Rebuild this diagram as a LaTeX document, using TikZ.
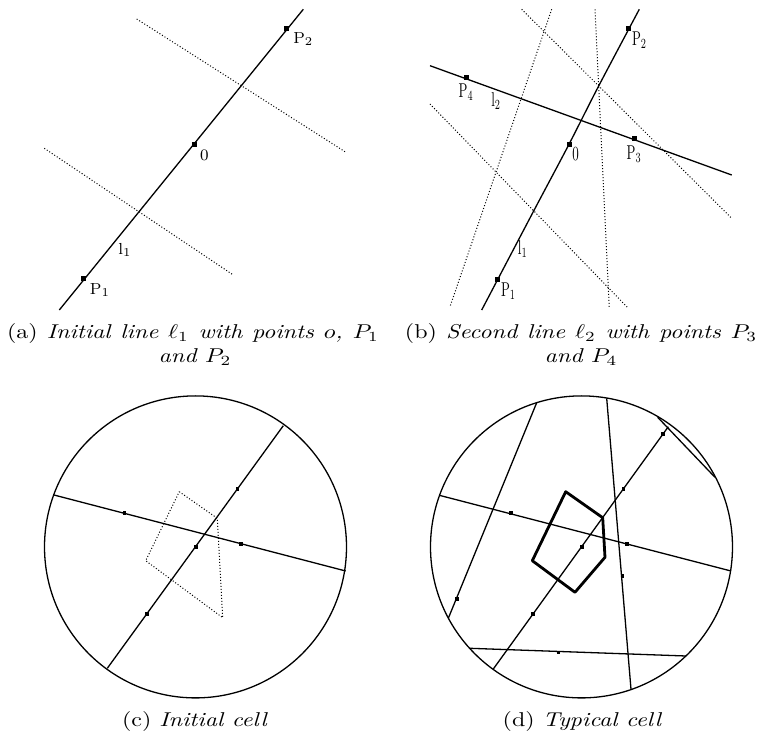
\documentclass[tikz,border=0pt]{standalone}
\usepackage{amsmath,amssymb}
\usepackage{tikz}
\usetikzlibrary{positioning}
% narrow labels of panel (b), wide caption face
\newcommand{\thinlab}[1]{\scalebox{0.65}[1]{#1}}
\newcommand{\widecap}[1]{\scalebox{1.2}[1]{#1}}
\tikzset{
    % marked points on the lines
    ptmark/.style={fill=black, inner sep=0pt, minimum size=2.5pt},
    smallmark/.style={fill=black, inner sep=0pt, minimum size=1.8pt},
    % point labels
    ptlab/.style={inner sep=0pt, font=\footnotesize},
    thinptlab/.style={inner sep=0pt, font=\normalsize},
    % captions under the panels
    caplab/.style={inner sep=0pt, anchor=base, font=\normalsize},
}
\tikzset{
    % line styles
    cutline/.style={line width=0.65pt},
    bisector/.style={line width=0.5pt, densely dotted},
    window/.style={line width=0.65pt},
    cellboundary/.style={line width=1.4pt, line join=round},
}

\begin{document}
\begin{tikzpicture}[x=0.5pt,y=-0.5pt]
  \useasboundingbox (0,0) rectangle (757,738);

  % (a) the first line and its bisectors
  \coordinate (a1s) at (59.3,310);   \coordinate (a1e) at (303.3,9.3);
  \coordinate (ab1s) at (136.7,19);  \coordinate (ab1e) at (345,151.7);
  \coordinate (ab2s) at (44.3,148.3); \coordinate (ab2e) at (233.3,275);
  \draw[cutline] (a1s) -- (a1e);
  \draw[bisector] (ab1s) -- (ab1e);
  \draw[bisector] (ab2s) -- (ab2e);
  \node[ptmark] (ap2) at (286.7,28.3) {};
  \node[ptmark] (ao)  at (194,144.3)  {};
  \node[ptmark] (ap1) at (83.7,279)   {};
  \node[ptlab,below right=0.5pt and 1.7pt of ap2] {P$_2$};
  \node[ptlab,below right=1.1pt and 1.4pt of ao]  {0};
  \node[ptlab,below right=0.6pt and 1.5pt of ap1] {P$_1$};
  \node[ptlab] (al1) at (125,250) {l$_1$};

  % (b) second line, bisectors of both
  \coordinate (b2s) at (430,65.7);   \coordinate (b2e) at (731.7,175);
  \draw[cutline] plot[smooth] coordinates
     {(481.7,310) (533.3,211.7) (569,144.3) (598.3,86.7) (639.3,9.3)};
  \draw[cutline] (b2s) -- (b2e);
  \coordinate (bb1s) at (521.7,9.3); \coordinate (bb1e) at (731.7,218.3);
  \coordinate (bb2s) at (551.7,9.3); \coordinate (bb2e) at (450,306.7);
  \coordinate (bb3s) at (595,9.3);   \coordinate (bb3e) at (609.3,308.3);
  \coordinate (bb4s) at (430,104);   \coordinate (bb4e) at (628.3,308.3);
  \foreach \i in {1,...,4} \draw[bisector] (bb\i s) -- (bb\i e);
  \node[ptmark] (bp2) at (628.7,28.3) {};
  \node[ptmark] (bp4) at (466,77.3)   {};
  \node[ptmark] (bo)  at (569,144.3)  {};
  \node[ptmark] (bp3) at (634,139)    {};
  \node[ptmark] (bp1) at (497.7,280)  {};
  \node[thinptlab,below right=0pt and 0pt of bp2] {\thinlab{P$_2$}};
  \node[thinptlab,below=1.7pt of bp4]             {\thinlab{P$_4$}};
  \node[thinptlab,below right=0pt and 0pt of bo]  {\thinlab{0}};
  \node[thinptlab,below=1.7pt of bp3]             {\thinlab{P$_3$}};
  \node[thinptlab,below right=0pt and 0pt of bp1] {\thinlab{P$_1$}};
  \node[thinptlab] (bl2) at (496,101)   {\thinlab{l$_2$}};
  \node[thinptlab] (bl1) at (522.7,249) {\thinlab{l$_1$}};

  % (c) initial cell in the window
  \coordinate (cc) at (195.5,546.9);
  \draw[window] (cc) circle[radius=151];
  \coordinate (c1s) at (107.3,668.3); \coordinate (c1e) at (283.3,425.7);
  \coordinate (c2s) at (54,495);      \coordinate (c2e) at (345.7,571);
  \draw[cutline] (c1s) -- (c1e);
  \draw[cutline] (c2s) -- (c2e);
  \draw[bisector] (179.3,491.7) -- (217.3,518.3) -- (222.7,617.7)
     -- (145.7,560.7) -- cycle;
  \foreach \n/\x/\y in {p1/146.7/614, o/195.7/547.3, p2/237.3/489.3,
                        p4/124.3/513.3, p3/240.7/544}
     \node[smallmark] (c\n) at (\x,\y) {};

  % (d) typical cell after more lines
  \coordinate (dc) at (581.5,546.9);
  \draw[window] (dc) circle[radius=151];
  \foreach \n/\xs/\ys/\xe/\ye in {1/493.3/669/668.3/426.7, 2/439.3/495.3/731/571,
        3/536.7/402.7/448.3/618.3, 4/606.7/398.3/631/689.3,
        5/470/648.3/686/656, 6/657.7/417.3/715/477.3}{
     \coordinate (d\n s) at (\xs,\ys); \coordinate (d\n e) at (\xe,\ye);
     \draw[cutline] (d\n s) -- (d\n e);
  }
  \draw[cellboundary] (565.7,491.7) -- (602.7,517.7) -- (605,557.3)
     -- (575,592.3) -- (532.3,560.7) -- cycle;
  \foreach \n/\x/\y in {a/662.7/434.3, b/623.3/489.3, o/581.7/547.3, c/532.7/614,
                        d/510.7/513.3, e/626.7/544, f/456.7/599, g/622.3/576,
                        h/558.3/652.7}
     \node[smallmark] (d\n) at (\x,\y) {};

  % captions
  \node[caplab] (capa) at (193,339)
     {\widecap{\makebox[155pt][s]{(a) \textit{Initial line $\ell_1$ with points $o$, $P_1$}}}};
  \node[caplab] (capa2) at (195,363) {\widecap{\textit{and $P_2$}}};
  \node[caplab] (capb) at (581,339)
     {\widecap{\makebox[146.7pt][s]{(b) \textit{Second line $\ell_2$ with points $P_3$}}}};
  \node[caplab] (capb2) at (581,363) {\widecap{\textit{and $P_4$}}};
  \node[caplab] (capc) at (195,726)   {\widecap{(c) \textit{Initial cell}}};
  \node[caplab] (capd) at (582.5,726) {\widecap{(d) \textit{Typical cell}}};
\end{tikzpicture}
\end{document}
